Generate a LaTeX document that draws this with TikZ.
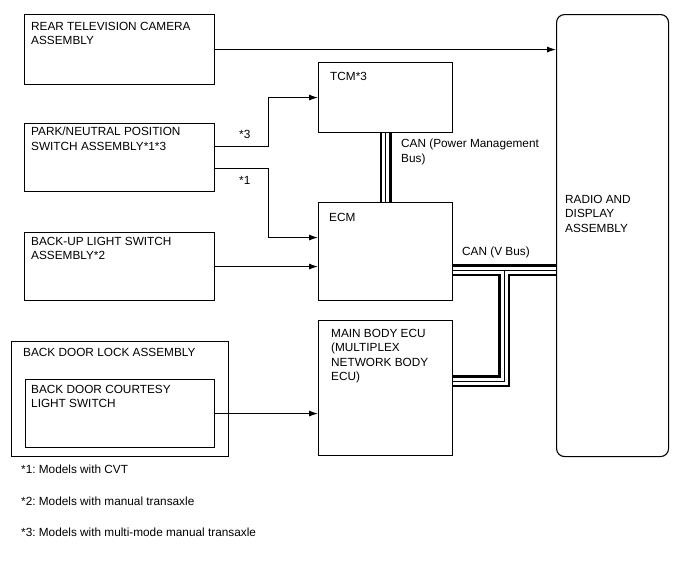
\documentclass[tikz,border=0pt]{standalone}
\usepackage{fontspec}
\setmainfont{Liberation Sans}
\usetikzlibrary{arrows.meta,positioning,calc}
\frenchspacing

\begin{document}
\begin{tikzpicture}[x=1pt,y=-1pt,
  bx/.style={draw,line width=1.1pt,inner sep=0pt,anchor=north west},
  tx/.style={font=\fontsize{11.8}{14.5}\selectfont,align=left,inner sep=0pt,anchor=north west},
  ar/.style={-{Latex[length=9pt,width=6pt]},line width=1pt},
  busout/.style={line width=12pt},
  buswh/.style={white,line width=7pt},
  busmid/.style={line width=1pt},
]
\useasboundingbox (0,0) rectangle (688,560);
% ============ left column ============
\node[bx,minimum width=190pt,minimum height=70pt] (rear) at (24,14) {};
\node[tx] (rearl) at ([shift={(7pt,-8pt)}]rear.north west) {REAR TELEVISION CAMERA\\ASSEMBLY};
\node[bx,minimum width=190pt,minimum height=68pt] (park) at (24,123) {};
\node[tx] (parkl) at ([shift={(7pt,-4pt)}]park.north west) {PARK/NEUTRAL POSITION\\SWITCH ASSEMBLY*1*3};
\node[bx,minimum width=190pt,minimum height=68pt] (backup) at (24,232) {};
\node[tx] (backupl) at ([shift={(7pt,-5pt)}]backup.north west) {BACK-UP LIGHT SWITCH\\ASSEMBLY*2};
\node[bx,minimum width=217pt,minimum height=115pt] (lock) at (11,341) {};
\node[tx] (lockl) at ([shift={(12pt,-7pt)}]lock.north west) {BACK DOOR LOCK ASSEMBLY};
\node[bx,minimum width=189pt,minimum height=68pt] (court) at (25,379) {};
\node[tx] (courtl) at ([shift={(6pt,-6pt)}]court.north west) {BACK DOOR COURTESY\\LIGHT SWITCH};
% ============ middle column ============
\node[bx,minimum width=134pt,minimum height=70pt] (tcm) at (318,62) {};
\node[tx] (tcml) at ([shift={(12pt,-10pt)}]tcm.north west) {TCM*3};
\node[bx,minimum width=134pt,minimum height=98pt] (ecm) at (318,202) {};
\node[tx] (ecml) at ([shift={(11pt,-11pt)}]ecm.north west) {ECM};
\node[bx,minimum width=134pt,minimum height=135pt] (body) at (318,320) {};
\node[tx] (bodyl) at ([shift={(13pt,-9pt)}]body.north west) {MAIN BODY ECU\\(MULTIPLEX\\NETWORK BODY\\ECU)};
% ============ radio ============
\node[bx,rounded corners=8pt,minimum width=112pt,minimum height=442pt] (radio) at (556,14) {};
\node[tx] (radiol) at ([shift={(9pt,-181pt)}]radio.north west) {RADIO AND\\DISPLAY\\ASSEMBLY};
% ============ signal lines ============
\draw[ar] (rear.east) -- (radio.west|-rear.east);
\draw[ar] ([yshift=11pt]park.east) -- ++(53,0) |- (tcm.west);
\draw[ar] ([yshift=-11pt]park.east) -- ++(53,0) |- ([yshift=14pt]ecm.west);
\draw[ar] (backup.east) -- (ecm.west|-backup.east);
\draw[ar] (court.east) -- (body.west|-court.east);
\node[tx] (n3) at (239,130) {*3};
\node[tx] (n1) at (239,176) {*1};
% ============ CAN buses ============
\coordinate (vj) at (504,270);
\coordinate (vb) at (504,381);
\draw[busout] (tcm.south) -- (ecm.north);
\draw[busout] (ecm.east|-vj) -- (radio.west|-vj);
\draw[busout] (vj) -- (vb) -- (body.east|-vb);
\draw[buswh] (tcm.south) -- (ecm.north);
\draw[buswh] (ecm.east|-vj) -- (radio.west|-vj);
\draw[buswh] (vj) -- (vb) -- (body.east|-vb);
\draw[busmid] (tcm.south) -- (ecm.north);
\draw[busmid] (ecm.east|-vj) -- (radio.west|-vj);
\draw[busmid] (vj) -- (vb) -- (body.east|-vb);
\node[tx] (can1) at (401,139) {CAN (Power Management\\Bus)};
\node[tx] (can2) at (462,247) {CAN (V Bus)};
% ============ notes ============
\node[tx] (f1) at (21,465) {*1: Models with CVT};
\node[tx] (f2) at (21,497) {*2: Models with manual transaxle};
\node[tx] (f3) at (21,528) {*3: Models with multi-mode manual transaxle};
\end{tikzpicture}
\end{document}
